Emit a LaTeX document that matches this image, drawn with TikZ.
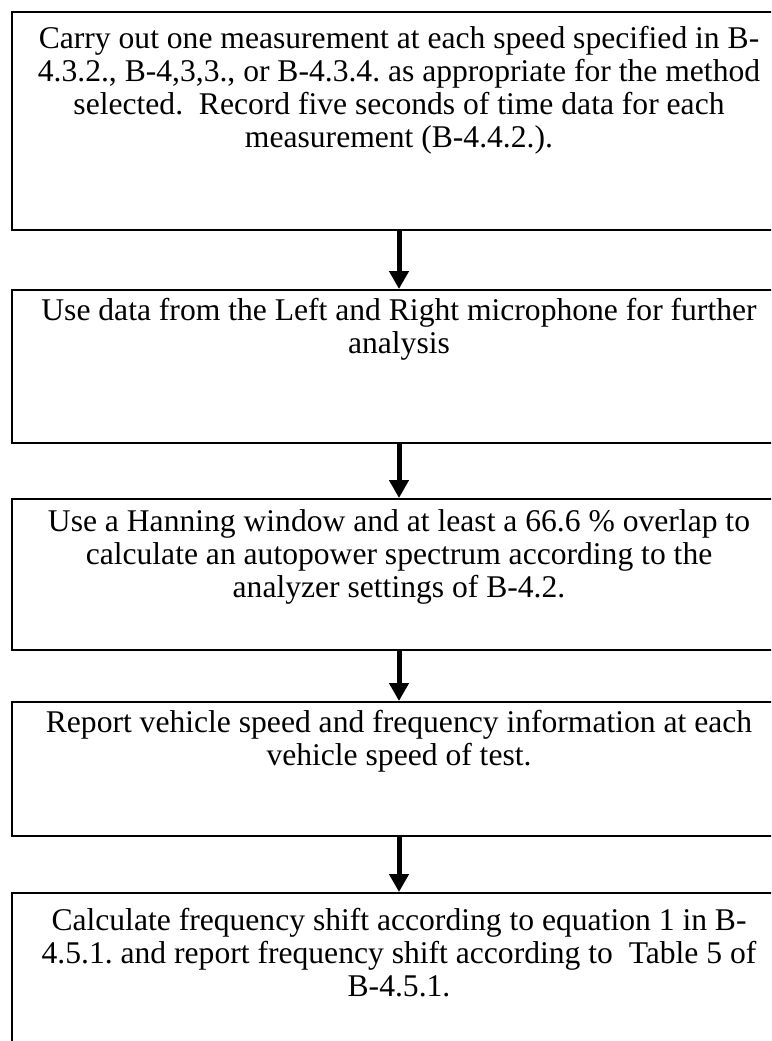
\documentclass[tikz,border=0pt]{standalone}
\usepackage{fontspec}
\setmainfont{Liberation Serif}
\usetikzlibrary{positioning,arrows.meta}
\frenchspacing

\tikzset{
  stepbox/.style={draw,line width=2pt,anchor=north west,inner sep=0pt,
    font=\fontsize{31.6}{33}\selectfont},
  flowarrow/.style={line width=5pt,-{Triangle[length=18pt,width=19pt]}}
}
% fixed size box, text hangs from the top
\newcommand{\steptext}[3]{\parbox[c][#1pt][t]{774pt}{\centering\vspace{#2pt}\strut #3}}

\begin{document}
\begin{tikzpicture}[x=1pt,y=-1pt]
  \clip (0,0) rectangle (771,1041);
  \fill[white] (0,0) rectangle (771,1041);
  % the five steps
  \node[stepbox] (measure) at (11,11) {\steptext{218}{13}{Carry out one measurement at each speed specified in B-\\
    4.3.2., B-4,3,3., or B-4.3.4. as appropriate for the method\\
    selected.\ \ Record five seconds of time data for each\\
    measurement (B-4.4.2.).}};
  \node[stepbox] (micdata) at (11,289) {\steptext{153}{7}{Use data from the Left and Right microphone for further\\
    analysis}};
  \node[stepbox] (spectrum) at (11,498) {\steptext{151}{9}{Use a Hanning window and at least a 66.6 \% overlap to\\
    calculate an autopower spectrum according to the\\
    analyzer settings of B-4.2.}};
  \node[stepbox] (report) at (11,701) {\steptext{134}{7}{Report vehicle speed and frequency information at each\\
    vehicle speed of test.}};
  \node[stepbox] (shift) at (11,892) {\steptext{170}{14}{Calculate frequency shift according to equation 1 in B-\\
    4.5.1. and report frequency shift according to\ \ Table 5 of\\
    B-4.5.1.}};
  % connectors
  \draw[flowarrow] (measure.south) -- (micdata.north);
  \draw[flowarrow] (micdata.south) -- (spectrum.north);
  \draw[flowarrow] (spectrum.south) -- (report.north);
  \draw[flowarrow] (report.south) -- (shift.north);
\end{tikzpicture}
\end{document}
